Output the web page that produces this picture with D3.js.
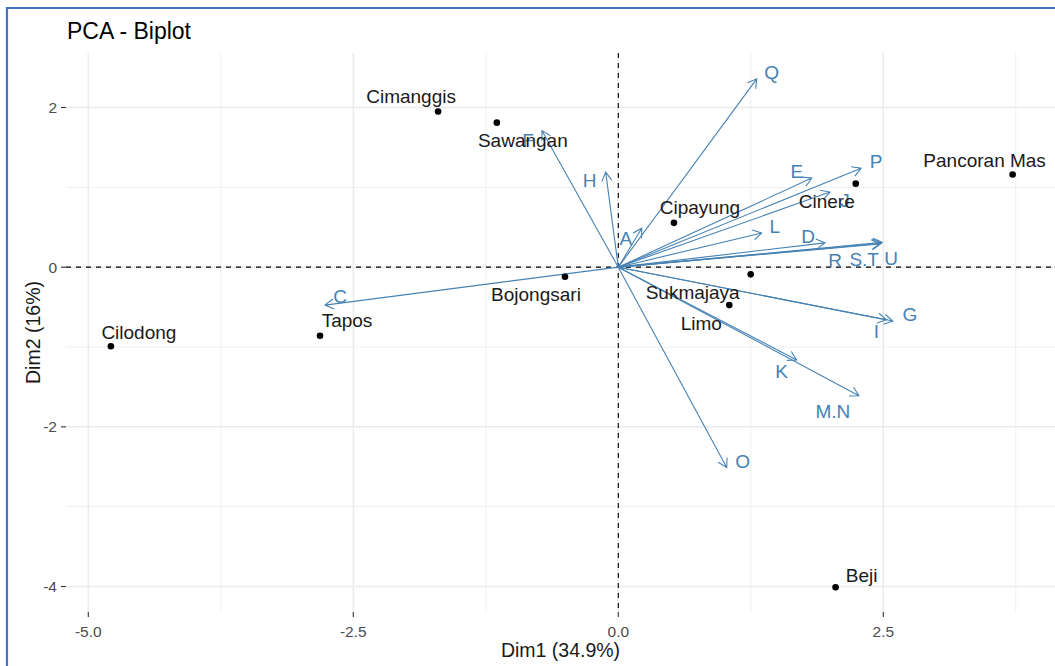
<!DOCTYPE html>
<html>
<head>
<meta charset="utf-8">
<script src="https://cdn.jsdelivr.net/npm/d3@7"></script>
<style>
  body { margin: 0; background: #fff; }
  text { font-family: "Liberation Sans", Arial, Helvetica, sans-serif; }
</style>
</head>
<body>
<svg id="chart" width="1055" height="666"></svg>
<script>
// Individuals (districts) on the first two principal components
const individuals = ["Cimanggis", "Sawangan", "Cipayung", "Cinere", "Pancoran Mas", "Bojongsari",
                     "Sukmajaya", "Limo", "Cilodong", "Tapos", "Beji"];
const indDim1 = [-1.70, -1.146, 0.525, 2.24, 3.72, -0.503, 1.249, 1.047, -4.787, -2.814, 2.05];
const indDim2 = [1.95, 1.81, 0.555, 1.046, 1.16, -0.12, -0.09, -0.475, -0.99, -0.86, -4.01];

// Variable loadings (arrow tips)
const variables = ["Q", "P", "E", "J", "L", "D", "R", "S.T", "U", "A", "H", "F", "C", "G", "I", "K", "M.N", "O"];
const varDim1 = [1.306, 2.29, 1.825, 1.997, 1.353, 1.95, 2.47, 2.48, 2.49, 0.221, -0.119, -0.72, -2.767, 2.59, 2.53, 1.683, 2.27, 1.023];
const varDim2 = [2.359, 1.24, 1.116, 0.941, 0.429, 0.304, 0.29, 0.30, 0.31, 0.4875, 1.19, 1.71, -0.475, -0.675, -0.66, -1.1625, -1.61, -2.51];

// Axis ticks
const xTicks = [-5, -2.5, 0, 2.5];
const xTickLabels = ["-5.0", "-2.5", "0.0", "2.5"];
const xMinor = [-3.75, -1.25, 1.25, 3.75];
const yTicks = [-4, -2, 0, 2];
const yTickLabels = ["-4", "-2", "0", "2"];
const yMinor = [-3, -1, 1];

// Label placement (pixel nudges from the mark: [dx to text centre, dy to baseline])
const indLabelNudge = [[-27, -8], [26, 24], [26, -9], [-29, 24], [-28, -8], [-29, 24],
                       [-58, 25], [-28, 25], [28, -7], [27, -9], [26, -5]];
const varLabelNudge = [[15, 0], [15, 0], [-15, 0], [15, 15], [13, 0], [-17, 0],
                       [-45, 23], [-17, 23], [9, 23], [-16, 17], [-16, 15], [-14, 16],
                       [15, -2], [17, 0], [-10, 18], [-15, 18], [-26, 22], [16, 0]];

const svg = d3.select("#chart");
const W = 1055, H = 666;
const panel = { left: 66, right: 1062, top: 53, bottom: 612 };

const x = d3.scaleLinear().domain([-5, 3.75]).range([88.3, 1015.8]);
const y = d3.scaleLinear().domain([-4, 2]).range([586.5, 107.5]);

const varColor = "steelblue";
const gridColor = "#ebebeb";

svg.append("rect").attr("width", W).attr("height", H).attr("fill", "#fff");

svg.append("defs").append("clipPath").attr("id", "panelClip")
  .append("rect")
  .attr("x", panel.left).attr("y", panel.top)
  .attr("width", panel.right - panel.left).attr("height", panel.bottom - panel.top);

const g = svg.append("g").attr("clip-path", "url(#panelClip)");

// Minor grid
g.selectAll("line.xminor").data(xMinor).join("line")
  .attr("x1", d => x(d)).attr("x2", d => x(d))
  .attr("y1", panel.top).attr("y2", panel.bottom)
  .attr("stroke", gridColor).attr("stroke-width", 0.8);
g.selectAll("line.yminor").data(yMinor).join("line")
  .attr("y1", d => y(d)).attr("y2", d => y(d))
  .attr("x1", panel.left).attr("x2", panel.right)
  .attr("stroke", gridColor).attr("stroke-width", 0.8);

// Major grid
g.selectAll("line.xmajor").data(xTicks).join("line")
  .attr("x1", d => x(d)).attr("x2", d => x(d))
  .attr("y1", panel.top).attr("y2", panel.bottom)
  .attr("stroke", gridColor).attr("stroke-width", 1.5);
g.selectAll("line.ymajor").data(yTicks).join("line")
  .attr("y1", d => y(d)).attr("y2", d => y(d))
  .attr("x1", panel.left).attr("x2", panel.right)
  .attr("stroke", gridColor).attr("stroke-width", 1.5);

// Dashed reference lines through the origin
g.append("line")
  .attr("x1", x(0)).attr("x2", x(0)).attr("y1", panel.top).attr("y2", panel.bottom)
  .attr("stroke", "#000").attr("stroke-width", 1.1).attr("stroke-dasharray", "5,5");
g.append("line")
  .attr("y1", y(0)).attr("y2", y(0)).attr("x1", panel.left).attr("x2", panel.right)
  .attr("stroke", "#000").attr("stroke-width", 1.1).attr("stroke-dasharray", "5,5");

// Variable arrows
const vars = variables.map((name, i) => ({ name, d1: varDim1[i], d2: varDim2[i], nudge: varLabelNudge[i] }));
const headLen = 10, headAng = Math.PI / 6;
function arrowPath(d) {
  const x0 = x(0), y0 = y(0), x1 = x(d.d1), y1 = y(d.d2);
  const a = Math.atan2(y1 - y0, x1 - x0);
  const hx1 = x1 - headLen * Math.cos(a - headAng), hy1 = y1 - headLen * Math.sin(a - headAng);
  const hx2 = x1 - headLen * Math.cos(a + headAng), hy2 = y1 - headLen * Math.sin(a + headAng);
  return `M${x0},${y0}L${x1},${y1}M${hx1},${hy1}L${x1},${y1}L${hx2},${hy2}`;
}
g.selectAll("path.arrow").data(vars).join("path")
  .attr("class", "arrow")
  .attr("d", arrowPath)
  .attr("fill", "none")
  .attr("stroke", varColor)
  .attr("stroke-width", 1.1);

g.selectAll("text.varlab").data(vars).join("text")
  .attr("class", "varlab")
  .attr("x", d => x(d.d1) + d.nudge[0])
  .attr("y", d => y(d.d2) + d.nudge[1])
  .attr("text-anchor", "middle")
  .attr("font-size", 19)
  .attr("fill", varColor)
  .text(d => d.name);

// Individuals
const inds = individuals.map((name, i) => ({ name, d1: indDim1[i], d2: indDim2[i], nudge: indLabelNudge[i] }));
g.selectAll("circle.ind").data(inds).join("circle")
  .attr("cx", d => x(d.d1)).attr("cy", d => y(d.d2))
  .attr("r", 3.3).attr("fill", "#000");
g.selectAll("text.indlab").data(inds).join("text")
  .attr("x", d => x(d.d1) + d.nudge[0])
  .attr("y", d => y(d.d2) + d.nudge[1])
  .attr("text-anchor", "middle")
  .attr("font-size", 19)
  .attr("fill", "#1a1a1a")
  .text(d => d.name);

// Axis ticks and labels
svg.selectAll("line.xtick").data(xTicks).join("line")
  .attr("x1", d => x(d)).attr("x2", d => x(d))
  .attr("y1", panel.bottom).attr("y2", panel.bottom + 5)
  .attr("stroke", "#333").attr("stroke-width", 1.1);
svg.selectAll("text.xtl").data(xTicks).join("text")
  .attr("x", d => x(d)).attr("y", 637)
  .attr("text-anchor", "middle").attr("font-size", 15.5).attr("fill", "#4d4d4d")
  .text((d, i) => xTickLabels[i]);

svg.selectAll("line.ytick").data(yTicks).join("line")
  .attr("y1", d => y(d)).attr("y2", d => y(d))
  .attr("x1", panel.left - 5).attr("x2", panel.left)
  .attr("stroke", "#333").attr("stroke-width", 1.1);
svg.selectAll("text.ytl").data(yTicks).join("text")
  .attr("x", 57).attr("y", d => y(d))
  .attr("dy", "0.36em")
  .attr("text-anchor", "end").attr("font-size", 15.5).attr("fill", "#4d4d4d")
  .text((d, i) => yTickLabels[i]);

// Axis titles
svg.append("text")
  .attr("x", (panel.left + W) / 2).attr("y", 657)
  .attr("text-anchor", "middle").attr("font-size", 19.5).attr("fill", "#1a1a1a")
  .text("Dim1 (34.9%)");
svg.append("text")
  .attr("transform", `translate(40,${(panel.top + panel.bottom) / 2}) rotate(-90)`)
  .attr("text-anchor", "middle").attr("font-size", 19.5).attr("fill", "#1a1a1a")
  .text("Dim2 (16%)");

// Title
svg.append("text")
  .attr("x", 67).attr("y", 39)
  .attr("font-size", 23).attr("fill", "#000")
  .text("PCA - Biplot");

// Frame
svg.append("path")
  .attr("d", `M7,${H}L7,8L${W},8`)
  .attr("fill", "none")
  .attr("stroke", "#4472c4")
  .attr("stroke-width", 2.2);
</script>
</body>
</html>
